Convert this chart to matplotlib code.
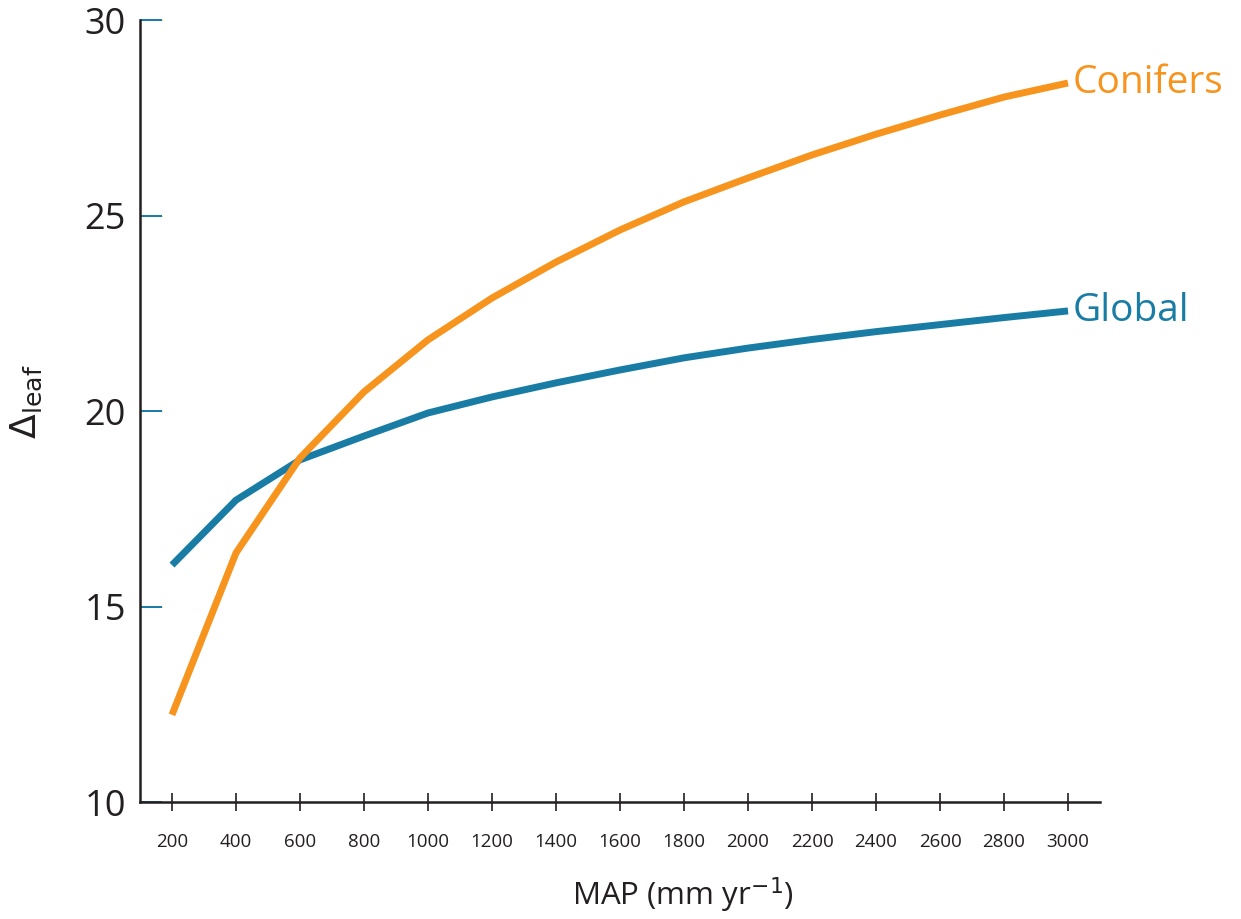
import matplotlib.pyplot as plt

map_mm = [200, 400, 600, 800, 1000, 1200, 1400, 1600, 1800, 2000, 2200, 2400, 2600, 2800, 3000]
global_d = [16.06, 17.72, 18.75, 19.36, 19.95, 20.36, 20.72, 21.05, 21.36, 21.61, 21.83, 22.03, 22.21, 22.39, 22.56]
conifers_d = [12.23, 16.37, 18.80, 20.49, 21.82, 22.89, 23.81, 24.63, 25.35, 25.96, 26.55, 27.08, 27.57, 28.03, 28.39]
y_ticks = [10, 15, 20, 25, 30]

blue = "#187ca5"
orange = "#f7941e"
dark = "#231f20"

plt.rcParams["font.family"] = ["Open Sans", "DejaVu Sans"]

fig = plt.figure(figsize=(12.41, 9.19), dpi=100)
ax = fig.add_axes([0.1128, 0.1273, 0.7736, 0.8509])

ax.plot(map_mm, global_d, color=blue, lw=5, solid_capstyle="butt")
ax.plot(map_mm, conifers_d, color=orange, lw=5, solid_capstyle="butt")

ax.text(map_mm[-1] + 15, global_d[-1], "Global", color=blue, fontsize=28,
        va="center", ha="left")
ax.text(map_mm[-1] + 15, conifers_d[-1], "Conifers", color=orange, fontsize=28,
        va="center", ha="left")

ax.set_xlim(100, 3100)
ax.set_ylim(10, 30)
ax.set_xticks(map_mm)
ax.set_yticks(y_ticks)

for s in ["top", "right"]:
    ax.spines[s].set_visible(False)
for s in ["left", "bottom"]:
    ax.spines[s].set_color(dark)
    ax.spines[s].set_linewidth(1.8)

ax.tick_params(axis="x", direction="inout", length=13, width=1.2, color=dark,
               labelsize=13.5, labelcolor=dark, pad=16)
ax.tick_params(axis="y", direction="in", length=16, width=1.4, color=blue,
               labelsize=26, labelcolor=dark, pad=10)

# second set of thin orange ticks overlapping the blue ones
sec = ax.secondary_yaxis("left")
sec.set_yticks(y_ticks)
sec.set_yticklabels([])
sec.spines["left"].set_visible(False)
sec.tick_params(direction="in", length=16, width=0.7, color=orange)

fig.text(0.55, 0.026, "MAP (mm yr$^{-1}$)", fontsize=22.5, color=dark,
         ha="center", va="center")
fig.text(0.022, 0.5626, r"$\Delta_{\mathrm{leaf}}$", rotation=90, fontsize=26,
         color=dark, ha="center", va="center")

fig.savefig("out.png", dpi=100)
